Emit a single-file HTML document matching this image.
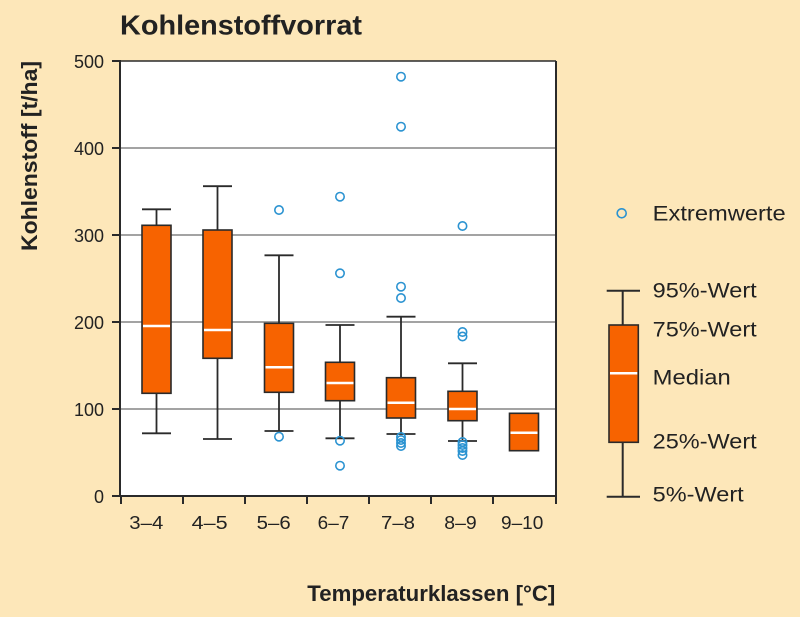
<!DOCTYPE html>
<html><head><meta charset="utf-8"><style>
html,body{margin:0;padding:0;background:#fde7b9;}
svg{display:block;}
text{font-family:"Liberation Sans",sans-serif;fill:#222;}
</style></head><body>
<svg width="800" height="617" viewBox="0 0 800 617" xmlns="http://www.w3.org/2000/svg">
<rect x="0" y="0" width="800" height="617" fill="#fde7b9"/>
<text x="120" y="34.3" font-size="28" font-weight="bold" textLength="242" lengthAdjust="spacingAndGlyphs">Kohlenstoffvorrat</text>
<rect x="120" y="61" width="436" height="435" fill="#ffffff"/>
<g stroke="#a3a3a3" stroke-width="2">
<line x1="120" y1="148" x2="556" y2="148"/>
<line x1="120" y1="235" x2="556" y2="235"/>
<line x1="120" y1="322" x2="556" y2="322"/>
<line x1="120" y1="409" x2="556" y2="409"/>
</g>
<g stroke="#2a2a2a" stroke-width="2" fill="none">
<line x1="120" y1="61" x2="556" y2="61" stroke-width="1.5"/>
<line x1="556" y1="61" x2="556" y2="496"/>
<line x1="120" y1="60" x2="120" y2="497"/>
<line x1="119" y1="496" x2="557" y2="496"/>
<line x1="112" y1="61" x2="120" y2="61"/>
<line x1="112" y1="148" x2="120" y2="148"/>
<line x1="112" y1="235" x2="120" y2="235"/>
<line x1="112" y1="322" x2="120" y2="322"/>
<line x1="112" y1="409" x2="120" y2="409"/>
<line x1="112" y1="496" x2="120" y2="496"/>
<line x1="121" y1="496" x2="121" y2="504"/>
<line x1="183" y1="496" x2="183" y2="504"/>
<line x1="245" y1="496" x2="245" y2="504"/>
<line x1="307" y1="496" x2="307" y2="504"/>
<line x1="369" y1="496" x2="369" y2="504"/>
<line x1="431" y1="496" x2="431" y2="504"/>
<line x1="493" y1="496" x2="493" y2="504"/>
<line x1="556" y1="496" x2="556" y2="504"/>
</g>
<g font-size="18" text-anchor="end">
<text x="104" y="68">500</text>
<text x="104" y="155">400</text>
<text x="104" y="242">300</text>
<text x="104" y="329">200</text>
<text x="104" y="416">100</text>
<text x="104" y="503">0</text>
</g>
<g font-size="18">
<text x="129.3" y="529" textLength="34" lengthAdjust="spacingAndGlyphs">3–4</text>
<text x="191.7" y="529" textLength="36" lengthAdjust="spacingAndGlyphs">4–5</text>
<text x="256.7" y="529" textLength="34" lengthAdjust="spacingAndGlyphs">5–6</text>
<text x="317.7" y="529" textLength="31.6" lengthAdjust="spacingAndGlyphs">6–7</text>
<text x="381" y="529" textLength="34" lengthAdjust="spacingAndGlyphs">7–8</text>
<text x="444.3" y="529" textLength="32.4" lengthAdjust="spacingAndGlyphs">8–9</text>
<text x="501" y="529" textLength="42.3" lengthAdjust="spacingAndGlyphs">9–10</text>
</g>
<text x="307.3" y="601" font-size="22" font-weight="bold" textLength="248" lengthAdjust="spacingAndGlyphs">Temperaturklassen [°C]</text>
<text transform="translate(37,251) rotate(-90)" x="0" y="0" font-size="22" font-weight="bold" textLength="190" lengthAdjust="spacingAndGlyphs">Kohlenstoff [t/ha]</text>

<g stroke="#2a2a2a" stroke-width="1.8" fill="none">
<!-- whiskers -->
<line x1="156.5" y1="209.3" x2="156.5" y2="433.3"/>
<line x1="142" y1="209.3" x2="171" y2="209.3"/>
<line x1="142" y1="433.3" x2="171" y2="433.3"/>
<line x1="217.5" y1="186.2" x2="217.5" y2="439"/>
<line x1="203" y1="186.2" x2="232" y2="186.2"/>
<line x1="203" y1="439" x2="232" y2="439"/>
<line x1="279" y1="255.3" x2="279" y2="431"/>
<line x1="264.5" y1="255.3" x2="293.5" y2="255.3"/>
<line x1="264.5" y1="431" x2="293.5" y2="431"/>
<line x1="340" y1="325" x2="340" y2="438.3"/>
<line x1="325.5" y1="325" x2="354.5" y2="325"/>
<line x1="325.5" y1="438.3" x2="354.5" y2="438.3"/>
<line x1="401" y1="316.7" x2="401" y2="434"/>
<line x1="386.5" y1="316.7" x2="415.5" y2="316.7"/>
<line x1="386.5" y1="434" x2="415.5" y2="434"/>
<line x1="462.5" y1="363.3" x2="462.5" y2="441"/>
<line x1="448" y1="363.3" x2="477" y2="363.3"/>
<line x1="448" y1="441" x2="477" y2="441"/>
</g>
<g fill="#f76300" stroke="#2a2a2a" stroke-width="1.6">
<rect x="142" y="225.3" width="29" height="168"/>
<rect x="203" y="230" width="29" height="128.3"/>
<rect x="264.5" y="323.3" width="29" height="69"/>
<rect x="325.5" y="362.3" width="29" height="38.4"/>
<rect x="386.5" y="377.7" width="29" height="40.3"/>
<rect x="448" y="391.3" width="29" height="29.4"/>
<rect x="509.5" y="413.3" width="29" height="37.4"/>
</g>
<g stroke="#ffffff" stroke-width="2.5">
<line x1="143" y1="326" x2="170" y2="326"/>
<line x1="204" y1="330" x2="231" y2="330"/>
<line x1="265.5" y1="367.3" x2="292.5" y2="367.3"/>
<line x1="326.5" y1="383" x2="353.5" y2="383"/>
<line x1="387.5" y1="402.7" x2="414.5" y2="402.7"/>
<line x1="449" y1="409" x2="476" y2="409"/>
<line x1="510.5" y1="432.7" x2="537.5" y2="432.7"/>
</g>
<g fill="none" stroke="#2b93d1" stroke-width="1.6">
<circle cx="279" cy="210" r="4.2"/>
<circle cx="279" cy="436.7" r="4.2"/>
<circle cx="340" cy="196.7" r="4.2"/>
<circle cx="340" cy="273.3" r="4.2"/>
<circle cx="340" cy="440.7" r="4.2"/>
<circle cx="340" cy="465.7" r="4.2"/>
<circle cx="401" cy="76.7" r="4.2"/>
<circle cx="401" cy="126.7" r="4.2"/>
<circle cx="401" cy="286.7" r="4.2"/>
<circle cx="401" cy="298" r="4.2"/>
<circle cx="401" cy="437" r="4.2"/>
<circle cx="401" cy="440" r="4.2"/>
<circle cx="401" cy="443" r="4.2"/>
<circle cx="401" cy="446" r="4.2"/>
<circle cx="462.5" cy="226" r="4.2"/>
<circle cx="462.5" cy="332" r="4.2"/>
<circle cx="462.5" cy="336.5" r="4.2"/>
<circle cx="462.5" cy="442" r="4.2"/>
<circle cx="462.5" cy="445" r="4.2"/>
<circle cx="462.5" cy="448" r="4.2"/>
<circle cx="462.5" cy="451" r="4.2"/>
<circle cx="462.5" cy="455" r="4.2"/>
<circle cx="621.7" cy="213.3" r="4.5"/>
</g>
<!-- legend -->
<g stroke="#2a2a2a" stroke-width="2" fill="none">
<line x1="622.7" y1="290.7" x2="622.7" y2="496.7"/>
<line x1="606.7" y1="290.7" x2="640" y2="290.7"/>
<line x1="606.7" y1="496.7" x2="640" y2="496.7"/>
</g>
<rect x="609" y="325" width="29.3" height="117.3" fill="#f76300" stroke="#2a2a2a" stroke-width="1.6"/>
<line x1="610" y1="373.3" x2="637.3" y2="373.3" stroke="#ffffff" stroke-width="2.5"/>
<g font-size="21">
<text x="652.7" y="220.7" textLength="133" lengthAdjust="spacingAndGlyphs">Extremwerte</text>
<text x="652.7" y="297.3" textLength="104" lengthAdjust="spacingAndGlyphs">95%-Wert</text>
<text x="652.7" y="336.7" textLength="104" lengthAdjust="spacingAndGlyphs">75%-Wert</text>
<text x="652.7" y="384.3" textLength="78" lengthAdjust="spacingAndGlyphs">Median</text>
<text x="652.7" y="448.3" textLength="104" lengthAdjust="spacingAndGlyphs">25%-Wert</text>
<text x="652.7" y="501.7" textLength="91" lengthAdjust="spacingAndGlyphs">5%-Wert</text>
</g>
</svg>
</body></html>
